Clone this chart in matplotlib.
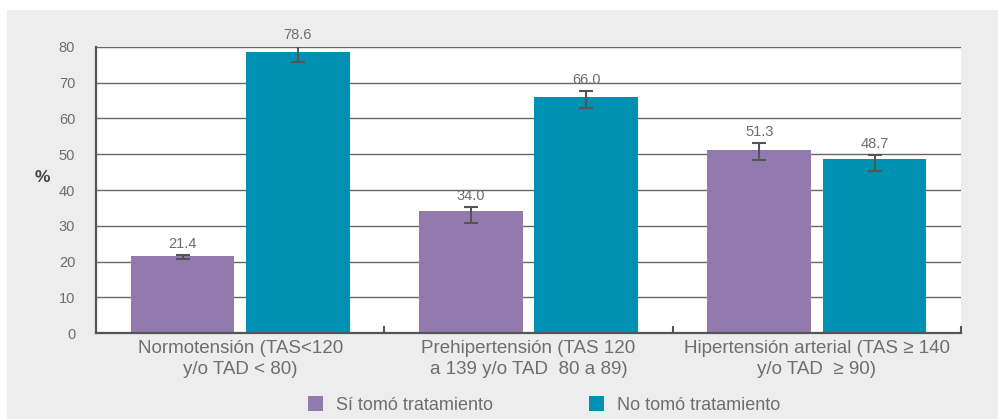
import matplotlib
matplotlib.use("Agg")
import matplotlib.pyplot as plt
import numpy as np
from matplotlib.patches import Rectangle

categories = ["Normotensión (TAS<120\ny/o TAD < 80)",
              "Prehipertensión (TAS 120\na 139 y/o TAD  80 a 89)",
              "Hipertensión arterial (TAS ≥ 140\ny/o TAD  ≥ 90)"]
series_names = ["Sí tomó tratamiento", "No tomó tratamiento"]
si_values = [21.4, 34.0, 51.3]
no_values = [78.6, 66.0, 48.7]
si_low = [20.6, 30.8, 48.4]
si_high = [21.9, 35.3, 53.2]
no_low = [75.9, 62.9, 45.4]
no_high = [80.4, 67.8, 49.9]
yticks = [0, 10, 20, 30, 40, 50, 60, 70, 80]

purple = "#927aaf"
teal = "#0090b2"
text_grey = "#6e6e6e"
line_grey = "#666666"

plt.rcParams['font.family'] = ['Liberation Sans', 'DejaVu Sans']

fig = plt.figure(figsize=(9.98, 4.19), dpi=100, facecolor="white")
fig.patches.append(Rectangle((7/998, 0), 1 - 7/998, 1 - 10/419,
                             transform=fig.transFigure, facecolor="#ededed",
                             edgecolor="none", zorder=-10))
ax = fig.add_axes([96/998, (419-333)/419, (961-96)/998, (333-47)/419])
ax.set_facecolor("white")

x = np.arange(len(categories))
w = 0.36
off = 0.2
b1 = ax.bar(x - off, si_values, w, color=purple, zorder=2, label=series_names[0])
b2 = ax.bar(x + off, no_values, w, color=teal, zorder=2, label=series_names[1])

si_err = [np.array(si_values) - np.array(si_low), np.array(si_high) - np.array(si_values)]
no_err = [np.array(no_values) - np.array(no_low), np.array(no_high) - np.array(no_values)]
ax.errorbar(x - off, si_values, yerr=si_err, fmt="none", ecolor="#555555",
            elinewidth=1.5, capsize=5, capthick=1.5, zorder=3)
ax.errorbar(x + off, no_values, yerr=no_err, fmt="none", ecolor="#555555",
            elinewidth=1.5, capsize=5, capthick=1.5, zorder=3)

for xi, v, h in zip(x - off, si_values, si_high):
    ax.text(xi, h + 1.0, f"{v:.1f}", ha="center", va="bottom", fontsize=10.5, color=text_grey)
for xi, v, h in zip(x + off, no_values, no_high):
    ax.text(xi, h + 1.0, f"{v:.1f}", ha="center", va="bottom", fontsize=10.5, color=text_grey)

ax.set_xlim(-0.5, 2.5)
ax.set_ylim(0, 80)
ax.set_yticks(yticks)
ax.yaxis.grid(True, color=line_grey, linewidth=1.0, zorder=1)
ax.set_axisbelow(True)
ax.tick_params(axis="y", length=0, labelsize=10.5, labelcolor=text_grey, pad=15)

ax.set_xticks([0.5, 1.5, 2.5], minor=False)
ax.set_xticklabels([])
ax.set_xticks(x, minor=True)
ax.set_xticklabels(categories, minor=True, fontsize=13.5, color=text_grey,
                   linespacing=1.3)
ax.tick_params(axis="x", which="major", direction="in", length=5, width=1.5,
               color="#555555")
ax.tick_params(axis="x", which="minor", length=0, pad=5)

for s in ["top", "right"]:
    ax.spines[s].set_visible(False)
for s in ["left", "bottom"]:
    ax.spines[s].set_color("#555555")
    ax.spines[s].set_linewidth(1.6)

fig.text(42/998, 1 - 177/419, "%", fontsize=12.5, color="#444444",
         fontweight="bold", ha="center", va="center")

leg = fig.legend(handles=[b1, b2], labels=series_names, loc="center",
                 bbox_to_anchor=(544/998, 1 - 405/419), ncol=2, frameon=False,
                 fontsize=13, handlelength=0.85, handleheight=0.85,
                 columnspacing=5.3, handletextpad=0.7)
for t in leg.get_texts():
    t.set_color(text_grey)

fig.savefig("out.png", dpi=100, facecolor=fig.get_facecolor())
